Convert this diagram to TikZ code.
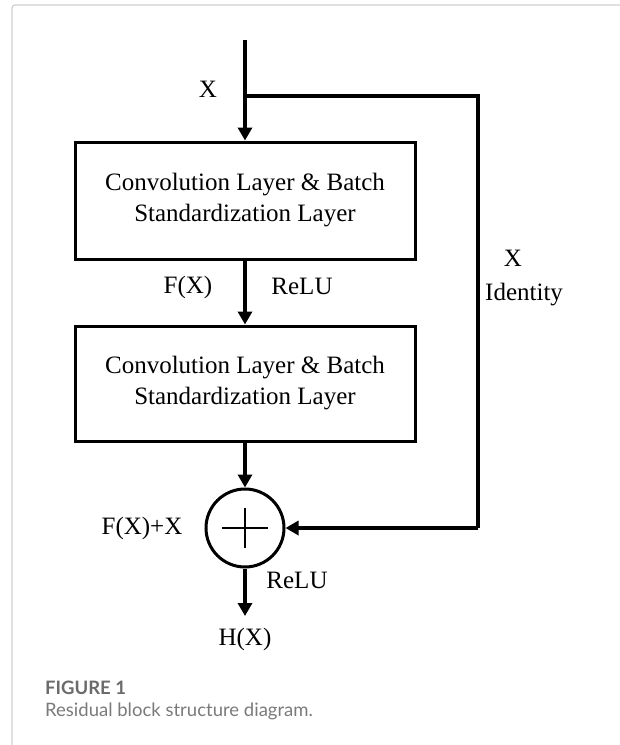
\documentclass[tikz,border=0pt]{standalone}
\usepackage{fontspec}
\setmainfont{Liberation Serif}
\newfontfamily\capfont{Lato}
\usetikzlibrary{arrows.meta}
\definecolor{capgray}{HTML}{6B6B6B}
\definecolor{txtgray}{HTML}{7A7A7A}
\definecolor{framegray}{HTML}{CFCFCF}
\begin{document}
\begin{tikzpicture}[x=1pt,y=-1pt,
  lbl/.style={font=\fontsize{25}{31}\selectfont, inner sep=0pt},
  layerbox/.style={draw, line width=3pt, minimum width=340pt, align=center,
    font=\fontsize{25}{31}\selectfont},
  flow/.style={line width=3.6pt, line join=miter,
    -{Triangle[width=14pt,length=13pt]}},
  plain/.style={line width=3.6pt, line join=miter}]
  \useasboundingbox (0,0) rectangle (620,745);
  % outer frame of the figure panel
  \draw[framegray, line width=1.2pt, rounded corners=3pt] (12,745) -- (12,5) -- (621,5);

  % blocks
  \node[layerbox, minimum height=117pt] (conv1) at (245,200.5)
    {Convolution Layer \& Batch\\Standardization Layer};
  \node[layerbox, minimum height=115pt] (conv2) at (245,383.5)
    {Convolution Layer \& Batch\\Standardization Layer};
  \node[draw, circle, line width=3pt, minimum size=78pt, inner sep=0pt] (sum) at (245,528) {};
  \draw[line width=2.6pt] ([xshift=-23pt]sum.center) -- ([xshift=23pt]sum.center);
  \draw[line width=2.6pt] ([yshift=-20pt]sum.center) -- ([yshift=20pt]sum.center);

  % path points
  \coordinate (in) at (245,40);
  \coordinate (split) at (245,96);
  \coordinate (skipA) at (478,96);
  \coordinate (skipB) at (478,528);
  \coordinate (out) at (245,616);

  % connectors
  \draw[flow] (in) -- (conv1.north);
  \draw[plain] (split) -- (skipA) -- (skipB);
  \draw[flow] (skipB) -- (sum.east);
  \draw[flow] (conv1.south) -- (conv2.north);
  \draw[flow] (conv2.south) -- (sum.north);
  \draw[flow] (sum.south) -- (out);

  % labels
  \node[lbl, anchor=base] (xin) at (208,97) {X};
  \node[lbl] (fx) at (188,287) {F(X)};
  \node[lbl] (relu1) at (302,286) {ReLU};
  \node[lbl] (xid) at (513,258) {X};
  \node[lbl, anchor=west] (ident) at (485,295) {Identity};
  \node[lbl] (fxx) at (142,528) {F(X)+X};
  \node[lbl] (relu2) at (297,580) {ReLU};
  \node[lbl] (hx) at (245,639) {H(X)};

  % caption
  \node[anchor=base west, inner sep=0pt, text=capgray,
    font=\capfont\bfseries\fontsize{18.5}{22}\selectfont] (fig) at (45,694) {FIGURE 1};
  \node[anchor=base west, inner sep=0pt, text=txtgray,
    font=\capfont\fontsize{18.5}{22}\selectfont] (cap) at (45,716) {Residual block structure diagram.};
\end{tikzpicture}
\end{document}
